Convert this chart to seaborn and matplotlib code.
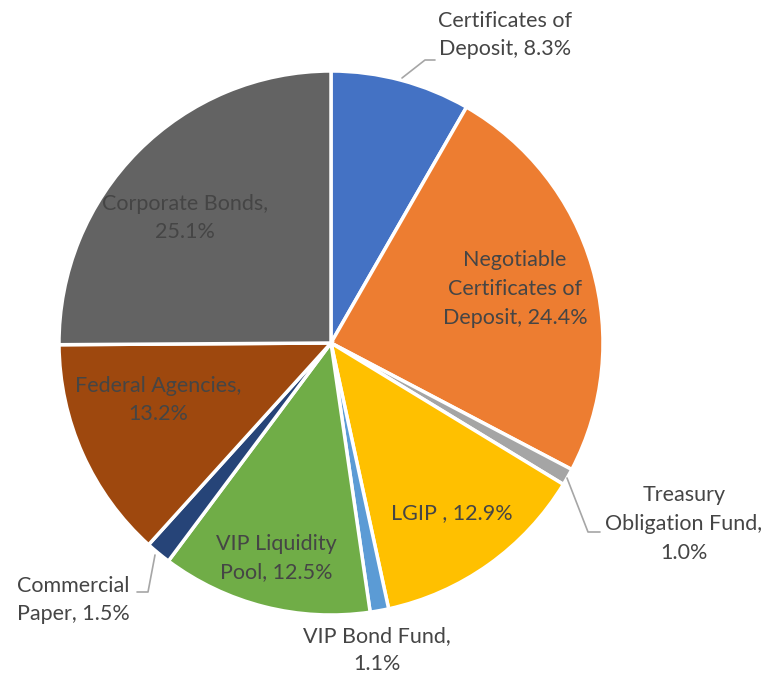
import matplotlib
matplotlib.use("Agg")
import matplotlib.pyplot as plt
import seaborn as sns

categories = ["Certificates of Deposit", "Negotiable Certificates of Deposit",
              "Treasury Obligation Fund", "LGIP", "VIP Bond Fund",
              "VIP Liquidity Pool", "Commercial Paper", "Federal Agencies",
              "Corporate Bonds"]
values = [8.3, 24.4, 1.0, 12.9, 1.1, 12.5, 1.5, 13.2, 25.1]
label_texts = ["Certificates of\nDeposit, 8.3%",
               "Negotiable\nCertificates of\nDeposit, 24.4%",
               "Treasury\nObligation Fund,\n1.0%",
               "LGIP , 12.9%",
               "VIP Bond Fund,\n1.1%",
               "VIP Liquidity\nPool, 12.5%",
               "Commercial\nPaper, 1.5%",
               "Federal Agencies,\n13.2%",
               "Corporate Bonds,\n25.1%"]

colors = ["#4472C4", "#ED7D31", "#A5A5A5", "#FFC000", "#5B9BD5",
          "#70AD47", "#264478", "#9E480E", "#636363"]

sns.set_theme(style="white")
plt.rcParams['font.family'] = ['Lato', 'DejaVu Sans']

W, H = 770, 675
CX, CY, R = 331, 343, 272

fig = plt.figure(figsize=(W / 100, H / 100), dpi=100)
ax = fig.add_axes([0, 0, 1, 1])

ax.pie(values, colors=colors, startangle=90, counterclock=False, radius=1.0,
       wedgeprops=dict(edgecolor="white", linewidth=2.5))

ax.set_aspect("auto")
ax.set_xlim(-CX / R, (W - CX) / R)
ax.set_ylim(-(H - CY) / R, CY / R)
ax.axis("off")

def p(px, py):
    return ((px - CX) / R, (CY - py) / R)

# label positions in pixel coordinates (layout)
label_pos = [(505, 35), (515, 289), (684, 524), (452, 513), (377, 650),
             (276, 558), (73, 600), (158, 400), (185, 218)]
for txt, (px, py) in zip(label_texts, label_pos):
    x, y = p(px, py)
    ax.text(x, y, txt, ha="center", va="center", fontsize=15.5,
            color="#454545", linespacing=1.55)

leaders = [
    [(402, 78), (425, 60), (435, 60)],
    [(567, 478), (588, 532), (600, 532)],
    [(155, 555), (148, 592), (137, 592)],
]
for pts in leaders:
    xs, ys = zip(*[p(a, b) for a, b in pts])
    ax.plot(xs, ys, color="#A6A6A6", lw=1.2)

fig.savefig("out.png", dpi=100)
